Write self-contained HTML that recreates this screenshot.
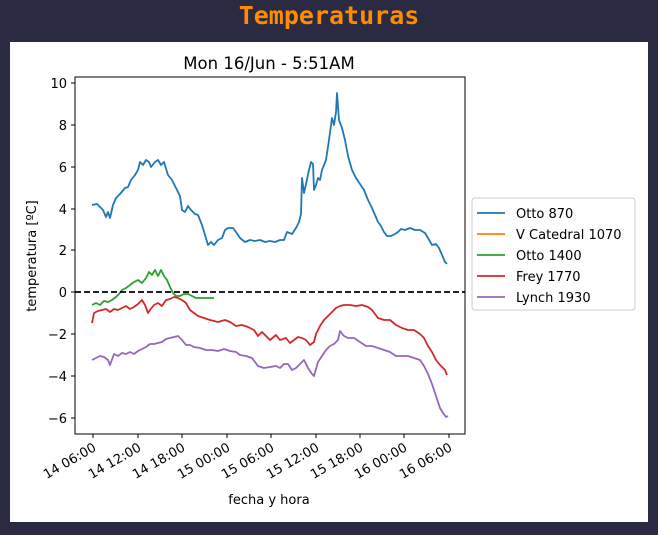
<!DOCTYPE html>
<html><head><meta charset="utf-8"><style>
body{margin:0;background:#2a2a42;width:658px;height:530px;overflow:hidden}
</style></head><body>
<svg width="658" height="530" xmlns="http://www.w3.org/2000/svg" font-family="DejaVu Sans, sans-serif">
<rect width="658" height="530" fill="#2a2a42"/>
<text x="329" y="24" text-anchor="middle" font-family="DejaVu Sans Mono, Liberation Mono, monospace" font-weight="bold" font-size="25" fill="#ff8c00">Temperaturas</text>
<rect x="10" y="42" width="638" height="480" fill="#fff"/>
<text x="269" y="69" text-anchor="middle" font-size="16.5" fill="#000">Mon 16/Jun - 5:51AM</text>
<g fill="none" stroke-width="1.8" stroke-linejoin="round">
<polyline stroke="#1f77b4" points="92,205 97,204 100,207 103,210 106,217 108,212 110,218 113,205 116,198 120,194 125,188 128,187 131,180 135,175 138,170 140,162 143,165 146,160 149,162 151,167 155,162 158,160 161,165 164,162 168,175 172,180 176,188 180,196 182,210 185,212 188,206 191,210 195,214 198,215 202,225 205,235 208,245 211,242 214,245 218,240 222,238 225,230 228,228 233,228 236,232 240,238 245,242 250,240 255,241 260,240 265,242 270,241 275,242 280,240 284,240 287,232 292,234 296,228 299,222 301,214 302,178 304,193 306,184 309,170 311,162 313,164 314,190 316,185 318,178 320,180 322,170 326,160 329,140 332,118 334,125 336,112 337,93 339,120 342,128 345,140 348,156 352,170 356,178 360,184 364,190 368,200 372,208 375,215 378,222 381,226 384,232 387,236 391,236 395,234 398,232 401,229 405,230 410,228 415,230 420,230 425,233 428,238 432,245 436,244 439,248 442,255 445,262 447,264"/>
<polyline stroke="#2ca02c" points="92,305 96,303 100,305 104,301 108,302 112,300 116,297 119,294 122,290 126,288 130,285 134,282 138,280 142,283 146,278 149,272 152,275 155,270 158,276 161,270 164,276 167,280 170,287 173,293 176,296 180,296 184,294 188,294 192,296 196,298 200,298 205,298 214,298"/>
<polyline stroke="#d62728" points="92,323 94,313 98,311 102,310 106,309 110,312 114,309 118,310 122,308 126,306 130,309 134,307 138,304 142,300 145,305 148,313 150,310 154,305 158,303 162,306 166,300 170,299 174,297 178,298 182,300 186,303 190,310 194,313 198,316 204,318 210,320 218,322 225,320 230,322 236,326 242,325 248,327 254,330 258,336 262,332 266,336 270,340 276,335 280,340 286,338 290,343 294,340 298,337 302,338 306,340 310,345 314,342 316,334 320,326 324,320 328,316 332,312 336,308 340,306 344,305 350,305 356,306 362,305 368,307 372,310 378,318 384,320 390,320 396,325 402,328 408,330 414,330 420,334 424,338 428,346 432,352 436,360 440,365 443,368 445,370 447,375"/>
<polyline stroke="#9467bd" points="92,360 96,358 100,356 104,357 108,360 110,365 114,354 118,356 122,353 126,354 130,352 134,354 138,351 142,349 146,347 150,344 154,344 158,343 162,342 166,339 170,338 174,337 178,336 182,340 186,345 190,345 194,347 200,348 206,350 212,350 218,351 224,349 230,351 236,352 240,355 246,356 252,358 258,366 264,368 270,367 276,366 280,368 284,364 288,364 292,370 296,368 300,364 304,360 308,368 312,374 314,376 318,362 322,356 326,350 330,346 334,344 338,340 340,331 344,336 348,338 354,338 360,342 366,346 372,346 378,348 384,350 390,352 396,356 402,356 408,356 414,358 420,360 424,366 428,374 432,384 436,396 440,408 443,413 446,417 448,416"/>
</g>
<line x1="75" y1="292" x2="465" y2="292" stroke="#000" stroke-width="1.8" stroke-dasharray="6,3"/>
<rect x="75" y="77" width="390" height="357" fill="none" stroke="#000" stroke-width="1"/>
<g stroke="#000" stroke-width="1">
<line x1="71" y1="83" x2="75" y2="83"/><line x1="71" y1="125" x2="75" y2="125"/><line x1="71" y1="167" x2="75" y2="167"/><line x1="71" y1="209" x2="75" y2="209"/><line x1="71" y1="250" x2="75" y2="250"/><line x1="71" y1="292" x2="75" y2="292"/><line x1="71" y1="334" x2="75" y2="334"/><line x1="71" y1="376" x2="75" y2="376"/><line x1="71" y1="418" x2="75" y2="418"/>
<line x1="93" y1="434" x2="93" y2="438"/><line x1="138" y1="434" x2="138" y2="438"/><line x1="182" y1="434" x2="182" y2="438"/><line x1="227" y1="434" x2="227" y2="438"/><line x1="271" y1="434" x2="271" y2="438"/><line x1="316" y1="434" x2="316" y2="438"/><line x1="360" y1="434" x2="360" y2="438"/><line x1="404" y1="434" x2="404" y2="438"/><line x1="449" y1="434" x2="449" y2="438"/>
</g>
<g font-size="13" text-anchor="end" fill="#000">
<text x="67" y="88">10</text><text x="67" y="130">8</text><text x="67" y="172">6</text><text x="67" y="214">4</text><text x="67" y="255">2</text><text x="67" y="297">0</text><text x="67" y="339">−2</text><text x="67" y="381">−4</text><text x="67" y="423">−6</text>
<text transform="translate(97,450) rotate(-30)">14 06:00</text>
<text transform="translate(142,450) rotate(-30)">14 12:00</text>
<text transform="translate(186,450) rotate(-30)">14 18:00</text>
<text transform="translate(231,450) rotate(-30)">15 00:00</text>
<text transform="translate(275,450) rotate(-30)">15 06:00</text>
<text transform="translate(320,450) rotate(-30)">15 12:00</text>
<text transform="translate(364,450) rotate(-30)">15 18:00</text>
<text transform="translate(408,450) rotate(-30)">16 00:00</text>
<text transform="translate(453,450) rotate(-30)">16 06:00</text>
</g>
<text x="269" y="504" text-anchor="middle" font-size="13">fecha y hora</text>
<text transform="translate(36,256) rotate(-90)" text-anchor="middle" font-size="13">temperatura [ºC]</text>
<rect x="472" y="198" width="163" height="112" fill="#fff" stroke="#ccc" rx="3"/>
<g stroke-width="1.8">
<line x1="477" y1="213" x2="505" y2="213" stroke="#1f77b4"/>
<line x1="477" y1="234" x2="505" y2="234" stroke="#ff7f0e"/>
<line x1="477" y1="255" x2="505" y2="255" stroke="#2ca02c"/>
<line x1="477" y1="276" x2="505" y2="276" stroke="#d62728"/>
<line x1="477" y1="297" x2="505" y2="297" stroke="#9467bd"/>
</g>
<g font-size="13" fill="#000">
<text x="516" y="218">Otto 870</text><text x="516" y="239">V Catedral 1070</text><text x="516" y="260">Otto 1400</text><text x="516" y="281">Frey 1770</text><text x="516" y="302">Lynch 1930</text>
</g>
</svg>
</body></html>
